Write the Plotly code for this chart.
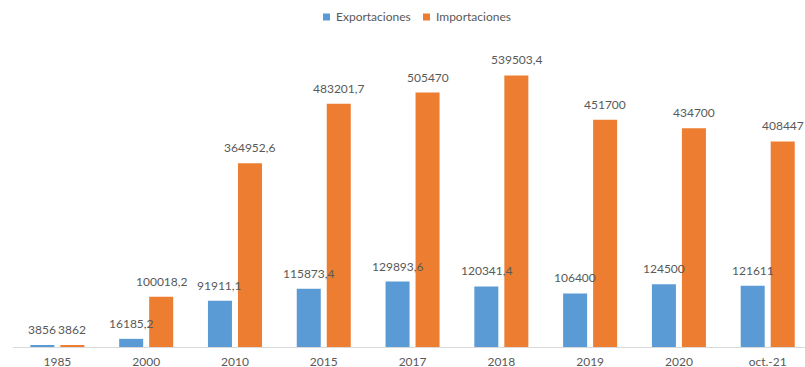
import plotly.graph_objects as go

# Trade values by period
categories = ["1985", "2000", "2010", "2015", "2017", "2018", "2019", "2020", "oct.-21"]
exportaciones = [3856, 16185.2, 91911.1, 115873.4, 129893.6, 120341.4, 106400, 124500, 121611]
importaciones = [3862, 100018.2, 364952.6, 483201.7, 505470, 539503.4, 451700, 434700, 408447]

series_names = ["Exportaciones", "Importaciones"]
series_colors = ["#5B9BD5", "#ED7D31"]
# horizontal pixel offset of each series' bar from the category centre
series_shift = [-15, 15]

FONT = "Lato"
TEXT_COLOR = "#595959"

PLOT_LEFT = 13
PLOT_W = 792
PLOT_TOP = 45
PLOT_H = 302


def fmt(v):
    """Spanish-style number: comma as decimal mark, no thousands separator."""
    s = ("%.1f" % v).rstrip("0").rstrip(".")
    return s.replace(".", ",")


fig = go.Figure()
for name, vals, color, dx in zip(series_names, [exportaciones, importaciones],
                                 series_colors, series_shift):
    fig.add_trace(go.Bar(
        x=categories,
        y=vals,
        name=name,
        marker=dict(color=color, line=dict(width=0)),
        showlegend=False,
        hoverinfo="x+y+name",
    ))
    # value labels above each bar, kept on top of every bar
    for i, v in enumerate(vals):
        fig.add_annotation(
            x=i, y=v, text=fmt(v), showarrow=False,
            xanchor="center", yanchor="bottom",
            xshift=dx, yshift=6,
            font=dict(family=FONT, size=12, color=TEXT_COLOR),
        )

# Legend: small colour squares with labels, centred above the plot
legend_px = [323, 423]
sq_w = 7 / PLOT_W
for name, color, px in zip(series_names, series_colors, legend_px):
    lx = (px - PLOT_LEFT) / PLOT_W
    fig.add_shape(
        type="rect", xref="paper", yref="paper",
        x0=lx, x1=lx + sq_w,
        y0=1.0 + (PLOT_TOP - 20.5) / PLOT_H, y1=1.0 + (PLOT_TOP - 13.5) / PLOT_H,
        fillcolor=color, line=dict(width=0),
    )
    fig.add_annotation(
        xref="paper", yref="paper",
        x=lx + sq_w + 4 / PLOT_W, y=1.0 + (PLOT_TOP - 17) / PLOT_H,
        text=name, showarrow=False,
        xanchor="left", yanchor="middle",
        font=dict(family=FONT, size=12, color=TEXT_COLOR),
    )

fig.update_layout(
    width=805,
    height=367,
    margin=dict(l=PLOT_LEFT, r=0, t=PLOT_TOP, b=20),
    paper_bgcolor="white",
    plot_bgcolor="white",
    barmode="group",
    bargap=0.324,
    bargroupgap=0.2,
    font=dict(family=FONT, size=12, color=TEXT_COLOR),
    xaxis=dict(
        type="category",
        range=[-0.5, 8.42],
        showline=True,
        linecolor="#D9D9D9",
        linewidth=1,
        showgrid=False,
        ticks="",
        tickfont=dict(family=FONT, size=12, color=TEXT_COLOR),
        ticklabelstandoff=4,
        automargin=False,
        fixedrange=True,
    ),
    yaxis=dict(
        range=[0, 600000],
        visible=False,
        showgrid=False,
        zeroline=False,
        automargin=False,
        fixedrange=True,
    ),
    showlegend=False,
)

fig.write_html("out.html")
